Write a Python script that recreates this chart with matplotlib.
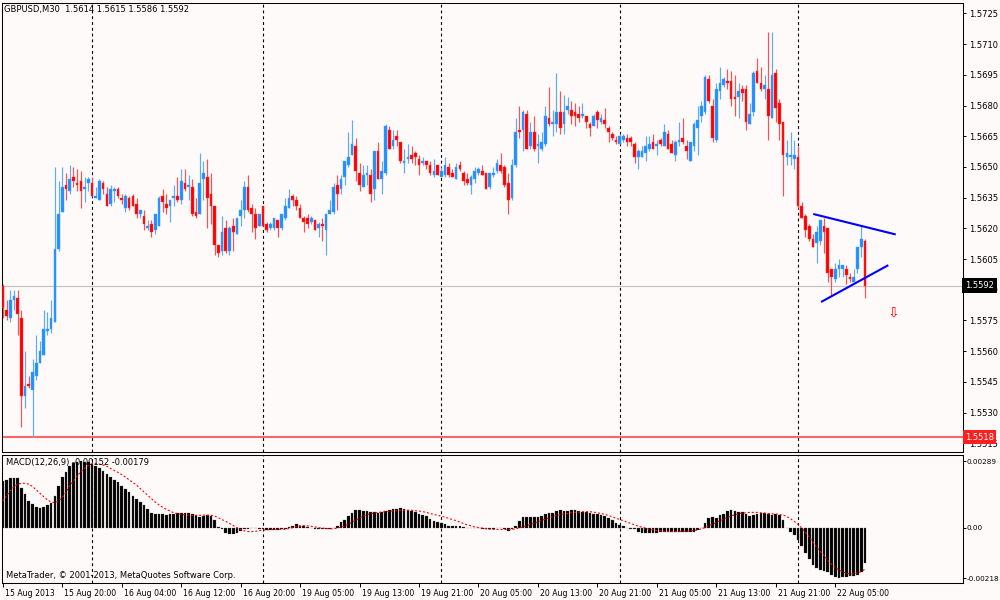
import numpy as np
import matplotlib
matplotlib.use("Agg")
import matplotlib.pyplot as plt
import matplotlib.transforms as mtransforms

# ---------------- data ----------------
header_text = "GBPUSD,M30  1.5614 1.5615 1.5586 1.5592"
macd_text = "MACD(12,26,9) -0.00152 -0.00179"
copyright_text = "MetaTrader, \u00a9 2001-2013, MetaQuotes Software Corp."

opens = [
    1.5592, 1.5580, 1.5576, 1.5585, 1.5586, 1.5576, 1.5538, 1.5544, 1.5541, 1.5548,
    1.5554, 1.5558, 1.5570, 1.5571, 1.5574, 1.5610, 1.5628, 1.5641, 1.5638, 1.5645,
    1.5642, 1.5643, 1.5639, 1.5642, 1.5642, 1.5635, 1.5634, 1.5642, 1.5637, 1.5632,
    1.5638, 1.5639, 1.5635, 1.5630, 1.5635, 1.5636, 1.5632, 1.5627, 1.5626, 1.5620,
    1.5622, 1.5619, 1.5621, 1.5636, 1.5632, 1.5631, 1.5635, 1.5636, 1.5634, 1.5642,
    1.5640, 1.5640, 1.5628, 1.5627, 1.5644, 1.5645, 1.5637, 1.5631, 1.5612, 1.5609,
    1.5620, 1.5609, 1.5621, 1.5617, 1.5626, 1.5629, 1.5640, 1.5630, 1.5627, 1.5621,
    1.5631, 1.5622, 1.5620, 1.5620, 1.5624, 1.5620, 1.5625, 1.5630, 1.5636, 1.5634,
    1.5630, 1.5625, 1.5625, 1.5623, 1.5624, 1.5620, 1.5622, 1.5619, 1.5627, 1.5628,
    1.5641, 1.5639, 1.5645, 1.5651, 1.5656, 1.5660, 1.5647, 1.5640, 1.5646, 1.5646,
    1.5639, 1.5658, 1.5644, 1.5647, 1.5668, 1.5660, 1.5665, 1.5662, 1.5652, 1.5654,
    1.5656, 1.5657, 1.5654, 1.5652, 1.5653, 1.5651, 1.5646, 1.5651, 1.5645, 1.5646,
    1.5650, 1.5647, 1.5644, 1.5651, 1.5647, 1.5644, 1.5641, 1.5644, 1.5647, 1.5648,
    1.5647, 1.5640, 1.5646, 1.5648, 1.5651, 1.5650, 1.5642, 1.5635, 1.5651, 1.5668,
    1.5668, 1.5676, 1.5660, 1.5667, 1.5660, 1.5659, 1.5661, 1.5674, 1.5671, 1.5671,
    1.5677, 1.5671, 1.5678, 1.5678, 1.5677, 1.5676, 1.5675, 1.5675, 1.5671, 1.5670,
    1.5677, 1.5672, 1.5673, 1.5669, 1.5666, 1.5663, 1.5661, 1.5663, 1.5664, 1.5664,
    1.5661, 1.5655, 1.5655, 1.5657, 1.5659, 1.5662, 1.5660, 1.5663, 1.5660, 1.5666,
    1.5661, 1.5656, 1.5662, 1.5664, 1.5660, 1.5653, 1.5660, 1.5669, 1.5675, 1.5677,
    1.5693, 1.5680, 1.5663, 1.5687, 1.5690, 1.5692, 1.5692, 1.5684, 1.5684, 1.5688,
    1.5688, 1.5671, 1.5677, 1.5697, 1.5691, 1.5688, 1.5688, 1.5674, 1.5696, 1.5681,
    1.5672, 1.5655, 1.5655, 1.5654, 1.5655, 1.5631, 1.5626, 1.5621, 1.5615, 1.5613,
    1.5614, 1.5621, 1.5620, 1.5600, 1.5595, 1.5600, 1.5600, 1.5600, 1.5596, 1.5594,
    1.5600, 1.5611, 1.5614,
]
highs = [
    1.5593, 1.5585, 1.5590, 1.5590, 1.5590, 1.5580, 1.5560, 1.5548, 1.5556, 1.5568,
    1.5565, 1.5580, 1.5579, 1.5585, 1.5650, 1.5643, 1.5650, 1.5647, 1.5651, 1.5650,
    1.5649, 1.5648, 1.5645, 1.5645, 1.5645, 1.5640, 1.5644, 1.5643, 1.5640, 1.5641,
    1.5640, 1.5640, 1.5637, 1.5637, 1.5636, 1.5637, 1.5635, 1.5629, 1.5629, 1.5624,
    1.5624, 1.5627, 1.5636, 1.5639, 1.5637, 1.5634, 1.5641, 1.5645, 1.5649, 1.5649,
    1.5646, 1.5644, 1.5635, 1.5657, 1.5653, 1.5654, 1.5647, 1.5631, 1.5612, 1.5626,
    1.5624, 1.5621, 1.5625, 1.5625, 1.5634, 1.5643, 1.5646, 1.5632, 1.5630, 1.5627,
    1.5631, 1.5623, 1.5623, 1.5625, 1.5624, 1.5627, 1.5635, 1.5639, 1.5637, 1.5636,
    1.5632, 1.5626, 1.5627, 1.5626, 1.5624, 1.5623, 1.5625, 1.5627, 1.5634, 1.5642,
    1.5646, 1.5646, 1.5653, 1.5667, 1.5673, 1.5664, 1.5652, 1.5651, 1.5651, 1.5649,
    1.5658, 1.5662, 1.5653, 1.5671, 1.5670, 1.5668, 1.5668, 1.5662, 1.5659, 1.5661,
    1.5660, 1.5658, 1.5656, 1.5655, 1.5653, 1.5653, 1.5654, 1.5651, 1.5650, 1.5655,
    1.5652, 1.5649, 1.5652, 1.5653, 1.5648, 1.5647, 1.5646, 1.5650, 1.5650, 1.5651,
    1.5647, 1.5647, 1.5650, 1.5654, 1.5657, 1.5651, 1.5647, 1.5654, 1.5674, 1.5680,
    1.5678, 1.5678, 1.5672, 1.5675, 1.5666, 1.5667, 1.5680, 1.5689, 1.5678, 1.5696,
    1.5687, 1.5685, 1.5684, 1.5682, 1.5681, 1.5680, 1.5681, 1.5675, 1.5672, 1.5676,
    1.5678, 1.5676, 1.5679, 1.5670, 1.5667, 1.5665, 1.5666, 1.5666, 1.5666, 1.5665,
    1.5662, 1.5659, 1.5660, 1.5665, 1.5665, 1.5666, 1.5663, 1.5664, 1.5671, 1.5668,
    1.5663, 1.5663, 1.5672, 1.5674, 1.5663, 1.5662, 1.5672, 1.5680, 1.5682, 1.5695,
    1.5695, 1.5683, 1.5691, 1.5699, 1.5694, 1.5698, 1.5697, 1.5695, 1.5691, 1.5690,
    1.5690, 1.5681, 1.5697, 1.5703, 1.5699, 1.5695, 1.5716, 1.5716, 1.5698, 1.5683,
    1.5672, 1.5663, 1.5667, 1.5663, 1.5660, 1.5633, 1.5627, 1.5622, 1.5617, 1.5621,
    1.5624, 1.5625, 1.5620, 1.5600, 1.5603, 1.5605, 1.5602, 1.5602, 1.5598, 1.5600,
    1.5611, 1.5621, 1.5615,
]
lows = [
    1.5576, 1.5575, 1.5574, 1.5580, 1.5568, 1.5523, 1.5532, 1.5542, 1.5518, 1.5546,
    1.5554, 1.5558, 1.5568, 1.5569, 1.5574, 1.5609, 1.5628, 1.5634, 1.5637, 1.5640,
    1.5638, 1.5630, 1.5633, 1.5638, 1.5636, 1.5635, 1.5634, 1.5637, 1.5631, 1.5631,
    1.5633, 1.5635, 1.5632, 1.5628, 1.5629, 1.5631, 1.5625, 1.5625, 1.5619, 1.5619,
    1.5616, 1.5617, 1.5621, 1.5628, 1.5627, 1.5623, 1.5631, 1.5633, 1.5632, 1.5638,
    1.5634, 1.5626, 1.5625, 1.5627, 1.5634, 1.5620, 1.5622, 1.5607, 1.5606, 1.5607,
    1.5608, 1.5607, 1.5609, 1.5617, 1.5621, 1.5625, 1.5628, 1.5618, 1.5615, 1.5621,
    1.5621, 1.5618, 1.5619, 1.5619, 1.5616, 1.5619, 1.5624, 1.5630, 1.5631, 1.5629,
    1.5625, 1.5618, 1.5620, 1.5622, 1.5619, 1.5616, 1.5614, 1.5607, 1.5627, 1.5627,
    1.5629, 1.5637, 1.5641, 1.5650, 1.5656, 1.5643, 1.5638, 1.5640, 1.5641, 1.5633,
    1.5634, 1.5644, 1.5637, 1.5646, 1.5659, 1.5659, 1.5660, 1.5652, 1.5647, 1.5652,
    1.5652, 1.5651, 1.5646, 1.5651, 1.5649, 1.5646, 1.5645, 1.5646, 1.5645, 1.5645,
    1.5645, 1.5645, 1.5644, 1.5648, 1.5641, 1.5641, 1.5637, 1.5642, 1.5646, 1.5646,
    1.5639, 1.5639, 1.5645, 1.5647, 1.5647, 1.5640, 1.5627, 1.5634, 1.5650, 1.5664,
    1.5658, 1.5659, 1.5659, 1.5658, 1.5652, 1.5658, 1.5660, 1.5670, 1.5665, 1.5667,
    1.5666, 1.5666, 1.5676, 1.5671, 1.5670, 1.5672, 1.5674, 1.5669, 1.5665, 1.5670,
    1.5669, 1.5671, 1.5669, 1.5662, 1.5663, 1.5661, 1.5661, 1.5662, 1.5660, 1.5660,
    1.5652, 1.5649, 1.5655, 1.5653, 1.5658, 1.5659, 1.5656, 1.5660, 1.5660, 1.5659,
    1.5657, 1.5653, 1.5660, 1.5661, 1.5654, 1.5653, 1.5658, 1.5656, 1.5672, 1.5676,
    1.5681, 1.5662, 1.5662, 1.5683, 1.5689, 1.5688, 1.5680, 1.5675, 1.5674, 1.5682,
    1.5668, 1.5671, 1.5675, 1.5691, 1.5687, 1.5683, 1.5663, 1.5674, 1.5672, 1.5663,
    1.5636, 1.5651, 1.5651, 1.5649, 1.5630, 1.5625, 1.5616, 1.5614, 1.5611, 1.5603,
    1.5612, 1.5608, 1.5594, 1.5587, 1.5594, 1.5596, 1.5596, 1.5593, 1.5594, 1.5594,
    1.5598, 1.5606, 1.5586,
]
closes = [
    1.5581, 1.5577, 1.5585, 1.5587, 1.5578, 1.5538, 1.5543, 1.5543, 1.5550, 1.5554,
    1.5560, 1.5571, 1.5571, 1.5576, 1.5610, 1.5627, 1.5640, 1.5639, 1.5644, 1.5643,
    1.5641, 1.5638, 1.5640, 1.5644, 1.5636, 1.5636, 1.5643, 1.5639, 1.5631, 1.5639,
    1.5639, 1.5636, 1.5634, 1.5636, 1.5630, 1.5631, 1.5627, 1.5629, 1.5622, 1.5621,
    1.5618, 1.5627, 1.5635, 1.5633, 1.5630, 1.5634, 1.5636, 1.5634, 1.5643, 1.5639,
    1.5641, 1.5627, 1.5626, 1.5642, 1.5647, 1.5635, 1.5631, 1.5612, 1.5608, 1.5618,
    1.5609, 1.5620, 1.5618, 1.5625, 1.5629, 1.5640, 1.5629, 1.5627, 1.5620, 1.5627,
    1.5621, 1.5619, 1.5622, 1.5625, 1.5620, 1.5627, 1.5631, 1.5635, 1.5634, 1.5631,
    1.5625, 1.5623, 1.5622, 1.5625, 1.5619, 1.5622, 1.5621, 1.5627, 1.5629, 1.5640,
    1.5637, 1.5644, 1.5653, 1.5655, 1.5661, 1.5648, 1.5641, 1.5646, 1.5647, 1.5637,
    1.5658, 1.5644, 1.5648, 1.5670, 1.5659, 1.5663, 1.5663, 1.5653, 1.5653, 1.5655,
    1.5654, 1.5655, 1.5651, 1.5653, 1.5651, 1.5647, 1.5648, 1.5646, 1.5648, 1.5651,
    1.5646, 1.5645, 1.5650, 1.5649, 1.5643, 1.5642, 1.5645, 1.5648, 1.5649, 1.5646,
    1.5639, 1.5647, 1.5647, 1.5652, 1.5648, 1.5641, 1.5634, 1.5651, 1.5667, 1.5667,
    1.5677, 1.5659, 1.5667, 1.5659, 1.5661, 1.5662, 1.5675, 1.5671, 1.5672, 1.5677,
    1.5669, 1.5677, 1.5680, 1.5675, 1.5675, 1.5674, 1.5676, 1.5672, 1.5669, 1.5675,
    1.5673, 1.5674, 1.5671, 1.5667, 1.5664, 1.5662, 1.5665, 1.5665, 1.5662, 1.5662,
    1.5655, 1.5658, 1.5658, 1.5660, 1.5661, 1.5659, 1.5661, 1.5661, 1.5667, 1.5659,
    1.5657, 1.5662, 1.5663, 1.5662, 1.5658, 1.5662, 1.5671, 1.5673, 1.5680, 1.5694,
    1.5682, 1.5664, 1.5688, 1.5691, 1.5693, 1.5691, 1.5683, 1.5683, 1.5687, 1.5686,
    1.5672, 1.5676, 1.5696, 1.5691, 1.5688, 1.5690, 1.5675, 1.5695, 1.5679, 1.5671,
    1.5656, 1.5657, 1.5656, 1.5656, 1.5631, 1.5625, 1.5619, 1.5615, 1.5611, 1.5618,
    1.5624, 1.5618, 1.5598, 1.5596, 1.5600, 1.5602, 1.5602, 1.5597, 1.5595, 1.5596,
    1.5611, 1.5615, 1.5592,
]

macd_main = [
    0.00203, 0.00208, 0.00214, 0.00216, 0.00214, 0.00174, 0.00145, 0.00116, 0.00102, 0.00092,
    0.00087, 0.00092, 0.00097, 0.00106, 0.00138, 0.00179, 0.00218, 0.00243, 0.00266, 0.00280,
    0.00286, 0.00289, 0.00283, 0.00283, 0.00276, 0.00266, 0.00257, 0.00247, 0.00232, 0.00218,
    0.00208, 0.00199, 0.00179, 0.00167, 0.00155, 0.00138, 0.00126, 0.00112, 0.00097, 0.00080,
    0.00065, 0.00058, 0.00058, 0.00058, 0.00054, 0.00058, 0.00058, 0.00065, 0.00065, 0.00065,
    0.00065, 0.00058, 0.00054, 0.00048, 0.00051, 0.00054, 0.00051, 0.00036, 0.00002, -0.00004,
    -0.00022, -0.00025, -0.00028, -0.00022, -0.00015, -0.00007, -0.00004, -0.00001, -0.00001, -0.00004,
    -0.00007, -0.00010, -0.00010, -0.00010, -0.00010, -0.00007, -0.00004, 0.00004, 0.00010, 0.00015,
    0.00010, 0.00007, 0.00004, 0.00000, -0.00004, -0.00007, -0.00007, -0.00007, -0.00004, 0.00000,
    0.00010, 0.00025, 0.00036, 0.00051, 0.00065, 0.00077, 0.00077, 0.00073, 0.00071, 0.00068,
    0.00068, 0.00065, 0.00068, 0.00073, 0.00077, 0.00080, 0.00083, 0.00087, 0.00080, 0.00077,
    0.00073, 0.00068, 0.00062, 0.00057, 0.00051, 0.00039, 0.00031, 0.00025, 0.00019, 0.00015,
    0.00010, 0.00010, 0.00007, 0.00007, 0.00004, 0.00001, -0.00001, 0.00000, -0.00001, -0.00004,
    -0.00007, -0.00007, -0.00004, -0.00001, -0.00001, -0.00004, -0.00015, -0.00004, 0.00010, 0.00029,
    0.00048, 0.00048, 0.00048, 0.00048, 0.00048, 0.00051, 0.00062, 0.00065, 0.00065, 0.00071,
    0.00076, 0.00073, 0.00073, 0.00076, 0.00076, 0.00073, 0.00068, 0.00068, 0.00065, 0.00058,
    0.00058, 0.00054, 0.00051, 0.00044, 0.00033, 0.00022, 0.00013, 0.00007, 0.00000, -0.00004,
    -0.00007, -0.00019, -0.00022, -0.00022, -0.00022, -0.00022, -0.00022, -0.00019, -0.00019, -0.00019,
    -0.00019, -0.00019, -0.00019, -0.00019, -0.00019, -0.00019, -0.00019, -0.00010, 0.00001, 0.00019,
    0.00044, 0.00048, 0.00044, 0.00054, 0.00062, 0.00073, 0.00076, 0.00071, 0.00068, 0.00068,
    0.00062, 0.00051, 0.00057, 0.00062, 0.00065, 0.00065, 0.00062, 0.00054, 0.00062, 0.00054,
    0.00036, -0.00002, -0.00019, -0.00033, -0.00051, -0.00077, -0.00109, -0.00135, -0.00160, -0.00174,
    -0.00182, -0.00185, -0.00193, -0.00203, -0.00214, -0.00218, -0.00211, -0.00211, -0.00208, -0.00208,
    -0.00203, -0.00189, -0.00152,
]
macd_signal = [
    0.00116, 0.00138, 0.00160, 0.00179, 0.00189, 0.00193, 0.00193, 0.00189, 0.00179, 0.00164,
    0.00150, 0.00135, 0.00121, 0.00112, 0.00109, 0.00116, 0.00131, 0.00155, 0.00182, 0.00203,
    0.00225, 0.00243, 0.00257, 0.00270, 0.00276, 0.00278, 0.00276, 0.00272, 0.00266, 0.00257,
    0.00248, 0.00240, 0.00230, 0.00219, 0.00208, 0.00196, 0.00185, 0.00170, 0.00155, 0.00141,
    0.00126, 0.00112, 0.00100, 0.00089, 0.00080, 0.00073, 0.00065, 0.00062, 0.00058, 0.00057,
    0.00055, 0.00054, 0.00054, 0.00054, 0.00055, 0.00055, 0.00055, 0.00051, 0.00044, 0.00036,
    0.00028, 0.00019, 0.00010, 0.00001, -0.00007, -0.00013, -0.00016, -0.00016, -0.00015, -0.00012,
    -0.00010, -0.00009, -0.00007, -0.00007, -0.00007, -0.00007, -0.00006, -0.00003, 0.00001, 0.00006,
    0.00009, 0.00010, 0.00009, 0.00007, 0.00004, 0.00001, -0.00001, -0.00003, -0.00004, -0.00004,
    -0.00001, 0.00003, 0.00009, 0.00016, 0.00025, 0.00033, 0.00042, 0.00051, 0.00057, 0.00061,
    0.00064, 0.00067, 0.00068, 0.00070, 0.00071, 0.00073, 0.00074, 0.00076, 0.00076, 0.00076,
    0.00076, 0.00074, 0.00073, 0.00070, 0.00067, 0.00062, 0.00058, 0.00054, 0.00051, 0.00046,
    0.00041, 0.00036, 0.00031, 0.00025, 0.00019, 0.00013, 0.00009, 0.00004, 0.00001, -0.00001,
    -0.00004, -0.00006, -0.00007, -0.00007, -0.00007, -0.00007, -0.00007, -0.00007, -0.00004, 0.00000,
    0.00004, 0.00010, 0.00015, 0.00020, 0.00026, 0.00032, 0.00038, 0.00044, 0.00049, 0.00054,
    0.00057, 0.00060, 0.00062, 0.00065, 0.00067, 0.00068, 0.00070, 0.00070, 0.00070, 0.00068,
    0.00065, 0.00062, 0.00058, 0.00054, 0.00048, 0.00042, 0.00036, 0.00031, 0.00025, 0.00019,
    0.00013, 0.00007, 0.00003, -0.00001, -0.00006, -0.00009, -0.00012, -0.00013, -0.00015, -0.00016,
    -0.00016, -0.00016, -0.00016, -0.00015, -0.00015, -0.00013, -0.00012, -0.00009, -0.00004, 0.00001,
    0.00009, 0.00016, 0.00023, 0.00031, 0.00038, 0.00045, 0.00051, 0.00057, 0.00061, 0.00064,
    0.00065, 0.00067, 0.00067, 0.00067, 0.00065, 0.00064, 0.00062, 0.00061, 0.00060, 0.00058,
    0.00055, 0.00049, 0.00039, 0.00028, 0.00015, -0.00001, -0.00019, -0.00039, -0.00061, -0.00083,
    -0.00103, -0.00119, -0.00141, -0.00157, -0.00170, -0.00182, -0.00190, -0.00196, -0.00199, -0.00199,
    -0.00195, -0.00189, -0.00179,
]

time_labels = ["15 Aug 2013", "15 Aug 20:00", "16 Aug 04:00", "16 Aug 12:00", "16 Aug 20:00",
               "19 Aug 05:00", "19 Aug 13:00", "19 Aug 21:00", "20 Aug 05:00", "20 Aug 13:00",
               "20 Aug 21:00", "21 Aug 05:00", "21 Aug 13:00", "21 Aug 21:00", "22 Aug 05:00"]
time_label_bars = [0, 16, 32, 48, 64, 80, 96, 112, 128, 144, 160, 176, 192, 208, 224]
separator_bars = [24, 70, 118, 166, 214]

price_ticks = [1.5725, 1.5710, 1.5695, 1.5680, 1.5665, 1.5650, 1.5635, 1.5620,
               1.5605, 1.5590, 1.5575, 1.5560, 1.5545, 1.5530, 1.5515]
bid_price = 1.5592
hline_price = 1.5518
macd_levels = [0.00289, 0.0, -0.00218]
macd_level_labels = ["0.00289", "0.00", "-0.00218"]

trend_upper_bar = [218.1, 240.3]
trend_upper_price = [1.5627, 1.5617]
trend_lower_bar = [220.2, 238.3]
trend_lower_price = [1.5584, 1.5602]
arrow_bar = 239.6
arrow_price = 1.5579

# ---------------- styling ----------------
BG = "#FFFAFA"
BULL = "#1E90FF"
BEAR = "#FF0000"
BULL_WICK = "#5AAAFF"
BEAR_WICK = "#FF5050"
plt.rcParams["font.family"] = ["DejaVu Sans"]

W, H = 1000, 600
fig = plt.figure(figsize=(W / 100, H / 100), dpi=100, facecolor=BG)

def px_rect(x0, y0, x1, y1):
    return [x0 / W, 1 - y1 / H, (x1 - x0) / W, (y1 - y0) / H]

ax = fig.add_axes(px_rect(2, 3, 963, 452))
ax2 = fig.add_axes(px_rect(2, 455, 963, 583), sharex=ax)
for a in (ax, ax2):
    a.set_facecolor(BG)
    for s in a.spines.values():
        s.set_color("black")
        s.set_linewidth(0.75)

n = len(opens)
bars = np.arange(n)
o = np.array(opens); h = np.array(highs); l = np.array(lows); c = np.array(closes)
up = c >= o

# period separators
for a in (ax, ax2):
    for b in separator_bars:
        a.axvline(b, color="black", lw=0.8, ls=(0, (2.6, 2.6)), zorder=0.5)

# horizontal lines
ax.axhline(bid_price, color="#C0C0C0", lw=0.8, zorder=1)
ax.axhline(hline_price, color="#FF6464", lw=1.5, zorder=1)

# candles
ax.vlines(bars[up], l[up], h[up], color=BULL_WICK, lw=0.85, zorder=2)
ax.vlines(bars[~up], l[~up], h[~up], color=BEAR_WICK, lw=0.85, zorder=2)
body_low = np.minimum(o, c)
body_h = np.maximum(np.abs(c - o), 0.00004)
ax.bar(bars[up], body_h[up], bottom=body_low[up], width=0.72, color=BULL,
       edgecolor="#4DA3FF", linewidth=0.3, zorder=3)
ax.bar(bars[~up], body_h[~up], bottom=body_low[~up], width=0.72, color=BEAR,
       edgecolor="#FF3A3A", linewidth=0.3, zorder=3)

# trend lines and arrow
ax.plot(trend_upper_bar, trend_upper_price, color="#0000FF", lw=1.5, zorder=4,
        solid_capstyle="butt")
ax.plot(trend_lower_bar, trend_lower_price, color="#0000FF", lw=1.5, zorder=4,
        solid_capstyle="butt")
ax.text(arrow_bar, arrow_price, "\u21e9", color="red", fontsize=10,
        ha="center", va="center", zorder=5)

# axes limits
ax.set_xlim(-0.22, 258.4)
ax.set_ylim(1.55107, 1.57301)
ax2.set_ylim(-0.002385, 0.003152)

# price axis
ax.yaxis.tick_right()
ax.set_yticks(price_ticks)
ax.set_yticklabels(["%.4f" % p for p in price_ticks])
ax.tick_params(axis="y", direction="out", length=2.5, width=0.7, pad=1.8,
               labelsize=6, colors="black")
ax.tick_params(axis="x", which="both", bottom=False, labelbottom=False)

yx = mtransforms.blended_transform_factory(ax.transAxes, ax.transData)
ax.text(1.0025, bid_price, "1.5592", transform=yx, ha="left", va="center",
        color="white", fontsize=6, zorder=10, clip_on=False,
        bbox=dict(boxstyle="square,pad=0.35", fc="black", ec="none"))
ax.text(1.0025, hline_price, "1.5518", transform=yx, ha="left", va="center",
        color="white", fontsize=6, zorder=10, clip_on=False,
        bbox=dict(boxstyle="square,pad=0.25", fc="#FF1E1E", ec="none"))

# MACD pane
ax2.bar(bars, macd_main, width=0.72, color="#000000", edgecolor="#555555",
        linewidth=0.2, zorder=2)
ax2.plot(bars, macd_signal, color="red", lw=0.8, ls=(0, (1.8, 1.8)), zorder=3)
ax2.yaxis.tick_right()
ax2.set_yticks(macd_levels)
ax2.set_yticklabels(macd_level_labels)
ax2.tick_params(axis="y", direction="out", length=2.0, width=0.7, pad=0.8,
                labelsize=5.2, colors="black")
ax2.set_xticks(time_label_bars)
ax2.set_xticklabels(time_labels)
ax2.tick_params(axis="x", direction="out", length=3, width=0.7, pad=1.2,
                labelsize=5.6, colors="black")
offset = mtransforms.ScaledTranslation(2 / 100, 0, fig.dpi_scale_trans)
for lab in ax2.get_xticklabels():
    lab.set_horizontalalignment("left")
    lab.set_transform(lab.get_transform() + offset)

# texts
fig.text(4 / W, 1 - 9.5 / H, header_text, fontsize=6, color="black",
         ha="left", va="center")
fig.text(6 / W, 1 - 463 / H, macd_text, fontsize=6, color="black",
         ha="left", va="center", zorder=10)
fig.text(6 / W, 1 - 576 / H, copyright_text, fontsize=6, color="black",
         ha="left", va="center", zorder=10)

fig.savefig("out.png", dpi=100, facecolor=BG)
